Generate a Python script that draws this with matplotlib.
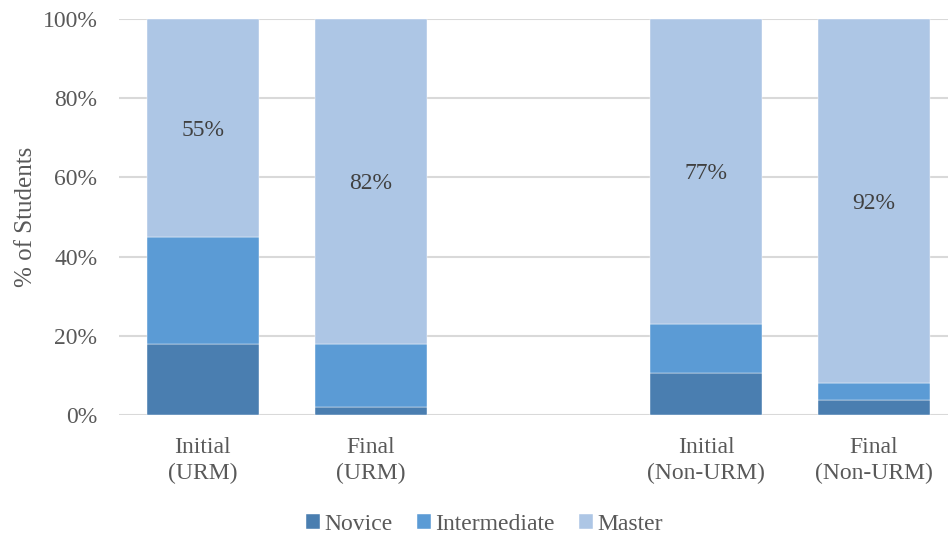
import matplotlib.pyplot as plt
from matplotlib.ticker import PercentFormatter

plt.rcParams['font.family'] = ['Liberation Serif', 'DejaVu Serif']

positions = [0, 1, 3, 4]
bar_labels = ["Initial\n(URM)", "Final\n(URM)", "Initial\n(Non-URM)", "Final\n(Non-URM)"]
novice = [18, 2, 10.5, 3.7]
intermediate = [27, 16, 12.5, 4.3]
master = [55, 82, 77, 92]

colors = {"Novice": "#4a7eb0", "Intermediate": "#5b9bd5", "Master": "#adc6e5"}
text_color = "#595959"
fs = 17

fig = plt.figure(figsize=(9.48, 5.35), dpi=100)
ax = fig.add_axes([119 / 948, 1 - 415 / 535, (948 - 119) / 948, (415 - 19) / 535])

width = 0.667
bottom = [0] * len(positions)
for name, vals in [("Novice", novice), ("Intermediate", intermediate), ("Master", master)]:
    ax.bar(positions, vals, width, bottom=bottom, color=colors[name], label=name,
           edgecolor="white", linewidth=0.3, zorder=3)
    bottom = [b + v for b, v in zip(bottom, vals)]

# master share printed in the middle of the top segment
for x, n, i, m in zip(positions, novice, intermediate, master):
    ax.text(x, n + i + m / 2, f"{m}%", ha="center", va="center_baseline",
            fontsize=fs, color="#404040", zorder=4)

ax.set_ylim(0, 100)
ax.set_xlim(-0.5, 4.44)
ax.set_yticks(range(0, 101, 20))
ax.yaxis.set_major_formatter(PercentFormatter(decimals=0))
ax.set_xticks(positions)
ax.set_xticklabels(bar_labels, linespacing=1.3)
ax.grid(axis="y", color="#d9d9d9", linewidth=1.5, zorder=0)
ax.tick_params(length=0, labelsize=fs, colors=text_color)
ax.tick_params(axis="x", pad=16)
ax.tick_params(axis="y", pad=15.5)
for s in ax.spines.values():
    s.set_visible(False)

ax.set_ylabel("% of Students", fontsize=18, color=text_color, labelpad=4)

fig.legend(loc="lower center", bbox_to_anchor=(0.511, -0.04), ncol=3, frameon=False,
           fontsize=fs, labelcolor=text_color, handlelength=0.6, handleheight=0.6,
           handletextpad=0.2, columnspacing=1.0)

fig.savefig("out.png", dpi=100)
plt.close(fig)
